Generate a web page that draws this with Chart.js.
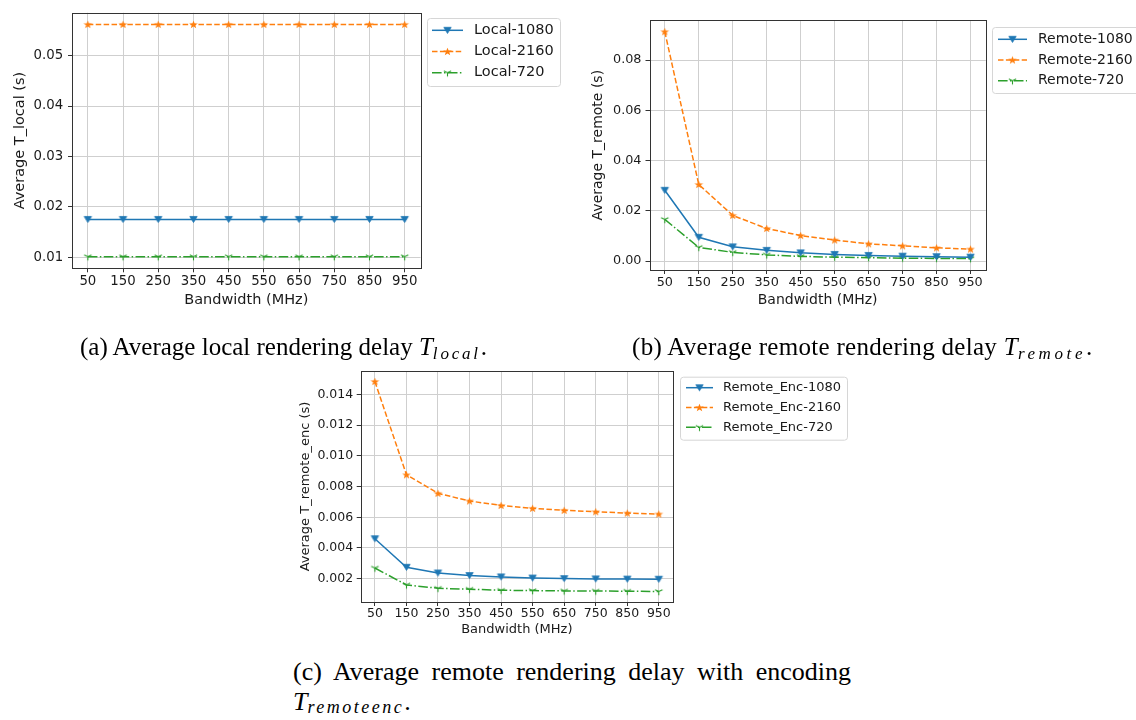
<!DOCTYPE html>
<html>
<head>
<meta charset="utf-8">
<title>Rendering delay vs bandwidth</title>
<script src="https://cdn.jsdelivr.net/npm/chart.js@4.4.1/dist/chart.umd.min.js"></script>
<style>
body { margin: 0; background: #fff; width: 1136px; height: 720px; position: relative; overflow: hidden; }
canvas { position: absolute; }
.cap { position: absolute; font-family: "Liberation Serif", serif; color: #000; white-space: nowrap; line-height: 1; }
.cap i { font-style: italic; }
.cap .sub { font-style: italic; position: relative; }
</style>
</head>
<body>
<canvas id="chartLocal" width="570" height="320" style="left:0;top:0"></canvas>
<canvas id="chartRemote" width="566" height="320" style="left:570px;top:0"></canvas>
<canvas id="chartEnc" width="580" height="280" style="left:280px;top:360px"></canvas>

<div class="cap" style="left:80px;top:334px;font-size:25px">(a) Average local rendering delay <i>T</i><span class="sub" style="font-size:17px;top:4px;letter-spacing:2.8px">local</span>.</div>
<div class="cap" style="left:632px;top:334px;font-size:25px;letter-spacing:0.3px">(b) Average remote rendering delay <i>T</i><span class="sub" style="font-size:17px;top:4px;letter-spacing:3.6px">remote</span>.</div>
<div class="cap" style="left:293px;top:659px;width:558px;font-size:26px;text-align:justify;text-align-last:justify;white-space:normal">(c) Average remote rendering delay with encoding</div>
<div class="cap" style="left:293px;top:689px;font-size:26px"><i>T</i><span class="sub" style="font-size:18px;top:3px;letter-spacing:2.5px">remoteenc</span>.</div>

<script>
// data
var bandwidth = [50, 150, 250, 350, 450, 550, 650, 750, 850, 950];

var local1080 = [0.0175, 0.0175, 0.0175, 0.0175, 0.0175, 0.0175, 0.0175, 0.0175, 0.0175, 0.0175];
var local2160 = [0.0562, 0.0562, 0.0562, 0.0562, 0.0562, 0.0562, 0.0562, 0.0562, 0.0562, 0.0562];
var local720 = [0.0101, 0.0101, 0.0101, 0.0101, 0.0101, 0.0101, 0.0101, 0.0101, 0.0101, 0.0101];

var remote1080 = [0.0282, 0.0095, 0.0057, 0.0043, 0.0033, 0.0027, 0.0023, 0.0020, 0.0018, 0.0016];
var remote2160 = [0.0913, 0.0305, 0.0182, 0.0130, 0.0102, 0.0084, 0.0069, 0.0061, 0.0053, 0.0048];
var remote720 = [0.0166, 0.0055, 0.0035, 0.0025, 0.0019, 0.0016, 0.0014, 0.0012, 0.0011, 0.0010];

var enc1080 = [0.00460, 0.00274, 0.00237, 0.00220, 0.00211, 0.00204, 0.00200, 0.00198, 0.00197, 0.00196];
var enc2160 = [0.01485, 0.00877, 0.00756, 0.00706, 0.00677, 0.00658, 0.00645, 0.00636, 0.00627, 0.00621];
var enc720 = [0.00269, 0.00159, 0.00137, 0.00131, 0.00124, 0.00122, 0.00120, 0.00119, 0.00118, 0.00116];

var xTicks = [50, 150, 250, 350, 450, 550, 650, 750, 850, 950];
var yTicksLocal = [0.01, 0.02, 0.03, 0.04, 0.05];
var yTicksRemote = [0.00, 0.02, 0.04, 0.06, 0.08];
var yTicksEnc = [0.002, 0.004, 0.006, 0.008, 0.010, 0.012, 0.014];

var BLUE = '#1f77b4', ORANGE = '#ff7f0e', GREEN = '#2ca02c';
var SPINE = '#333333', GRID = '#cfcfcf', TEXT = '#1a1a1a';
var FONT = '"DejaVu Sans", sans-serif';

// matplotlib-like markers as small canvases
function makeMarker(kind, color) {
    var c = document.createElement('canvas');
    c.width = 11; c.height = 11;
    var g = c.getContext('2d');
    g.fillStyle = color; g.strokeStyle = color;
    if (kind === 'v') {
        g.beginPath();
        g.moveTo(1.8, 2.6); g.lineTo(9.2, 2.6); g.lineTo(5.5, 8.6);
        g.closePath(); g.fill(); g.lineWidth = 0.8; g.stroke();
    } else if (kind === '*') {
        g.beginPath();
        for (var i = 0; i < 10; i++) {
            var r = i % 2 === 0 ? 4.6 : 1.9;
            var a = -Math.PI / 2 + i * Math.PI / 5;
            var px = 5.5 + r * Math.cos(a), py = 5.8 + r * Math.sin(a) * 0.9;
            if (i === 0) g.moveTo(px, py); else g.lineTo(px, py);
        }
        g.closePath(); g.fill();
    } else {
        // tri_down
        g.lineWidth = 1.1;
        g.beginPath();
        g.moveTo(5.5, 5.5); g.lineTo(5.5, 9.3);
        g.moveTo(5.5, 5.5); g.lineTo(1.8, 3.7);
        g.moveTo(5.5, 5.5); g.lineTo(9.2, 3.7);
        g.stroke();
    }
    return c;
}

function series(label, values, color, marker, dash) {
    return {
        label: label,
        data: bandwidth.map(function(b, i) { return { x: b, y: values[i] }; }),
        borderColor: color,
        backgroundColor: color,
        borderWidth: 1.5,
        borderDash: dash,
        pointStyle: makeMarker(marker, color),
        pointRadius: 4,
        pointHoverRadius: 4,
        tension: 0,
        fill: false
    };
}

// axes box (all four spines)
var frame = {
    id: 'frame',
    afterDatasetsDraw: function(chart) {
        var a = chart.chartArea, ctx = chart.ctx;
        ctx.save();
        ctx.strokeStyle = SPINE;
        ctx.lineWidth = 1;
        ctx.strokeRect(Math.round(a.left) + 0.5, Math.round(a.top) + 0.5,
            Math.round(a.right) - Math.round(a.left), Math.round(a.bottom) - Math.round(a.top));
        ctx.restore();
    }
};

// legend box in the matplotlib style
var boxLegend = {
    id: 'boxLegend',
    afterDraw: function(chart, args, o) {
        var ctx = chart.ctx;
        ctx.save();
        ctx.beginPath();
        ctx.roundRect(o.x + 0.5, o.y + 0.5, o.w, o.h, 3);
        ctx.fillStyle = 'rgba(255,255,255,0.8)';
        ctx.fill();
        ctx.strokeStyle = '#d6d6d6';
        ctx.lineWidth = 1;
        ctx.stroke();
        chart.data.datasets.forEach(function(ds, i) {
            var y = o.y0 + i * o.step;
            ctx.strokeStyle = ds.borderColor;
            ctx.lineWidth = ds.borderWidth;
            ctx.setLineDash(ds.borderDash || []);
            ctx.beginPath();
            ctx.moveTo(o.x0, y);
            ctx.lineTo(o.x1, y);
            ctx.stroke();
            ctx.setLineDash([]);
            var m = ds.pointStyle;
            ctx.drawImage(m, (o.x0 + o.x1) / 2 - m.width / 2, y - m.height / 2);
            ctx.fillStyle = TEXT;
            ctx.font = o.size + 'px ' + FONT;
            ctx.textBaseline = 'middle';
            ctx.textAlign = 'left';
            ctx.fillText(ds.label, o.tx, y);
        });
        ctx.restore();
    }
};

function yRange(list) {
    var all = [].concat.apply([], list);
    var lo = Math.min.apply(null, all), hi = Math.max.apply(null, all);
    var m = (hi - lo) * 0.05;
    return [lo - m, hi + m];
}

function makeChart(id, datasets, yTicks, yTitle, c) {
    var yr = yRange(datasets.map(function(d) { return d.data.map(function(p) { return p.y; }); }));
    return new Chart(document.getElementById(id), {
        type: 'line',
        data: { datasets: datasets },
        options: {
            responsive: false,
            animation: false,
            events: [],
            layout: { padding: { top: c.top, right: c.right, left: 0, bottom: 0 } },
            plugins: {
                legend: { display: false },
                tooltip: { enabled: false },
                boxLegend: c.legend
            },
            scales: {
                x: {
                    type: 'linear',
                    min: 5,
                    max: 995,
                    afterBuildTicks: function(s) { s.ticks = xTicks.map(function(v) { return { value: v }; }); },
                    afterFit: function(s) { s.height = c.xh; },
                    grid: { color: GRID, lineWidth: 1, tickColor: SPINE, tickLength: 4 },
                    border: { display: false },
                    ticks: {
                        autoSkip: false, maxRotation: 0, color: TEXT, padding: c.xpad,
                        font: { family: FONT, size: c.tick },
                        callback: function(v) { return String(v); }
                    },
                    title: {
                        display: true, text: 'Bandwidth (MHz)', color: TEXT,
                        font: { family: FONT, size: c.label },
                        padding: { top: 0, bottom: c.xtpad }
                    }
                },
                y: {
                    min: yr[0],
                    max: yr[1],
                    afterBuildTicks: function(s) { s.ticks = yTicks.map(function(v) { return { value: v }; }); },
                    afterFit: function(s) { s.width = c.yw; },
                    grid: { color: GRID, lineWidth: 1, tickColor: SPINE, tickLength: 4 },
                    border: { display: false },
                    ticks: {
                        color: TEXT, padding: c.ypad,
                        font: { family: FONT, size: c.tick },
                        callback: function(v) { return v.toFixed(c.dec); }
                    },
                    title: {
                        display: true, text: yTitle, color: TEXT,
                        font: { family: FONT, size: c.label },
                        padding: { top: c.ytpad, bottom: 0 }
                    }
                }
            }
        },
        plugins: [frame, boxLegend]
    });
}

makeChart('chartLocal', [
    series('Local-1080', local1080, BLUE, 'v', []),
    series('Local-2160', local2160, ORANGE, '*', [5.5, 2.4]),
    series('Local-720', local720, GREEN, '1', [9.6, 2.4, 1.5, 2.4])
], yTicksLocal, 'Average T_local (s)', {
    top: 10.3, right: 149.5, yw: 72, xh: 51.7, tick: 13.3, label: 14.5,
    xpad: 1.4, ypad: 4.8, xtpad: 11.3, ytpad: 11.3, dec: 2,
    legend: { x: 427, y: 18, w: 133, h: 68, y0: 30.3, step: 21.2, x0: 432, x1: 463, tx: 474, size: 14.5 }
});

makeChart('chartRemote', [
    series('Remote-1080', remote1080, BLUE, 'v', []),
    series('Remote-2160', remote2160, ORANGE, '*', [5.5, 2.4]),
    series('Remote-720', remote720, GREEN, '1', [9.6, 2.4, 1.5, 2.4])
], yTicksRemote, 'Average T_remote (s)', {
    top: 20.3, right: 150.2, yw: 79.5, xh: 50, tick: 12.8, label: 14,
    xpad: 1, ypad: 4, xtpad: 11.6, ytpad: 19.9, dec: 2,
    legend: { x: 422, y: 27, w: 150, h: 66, y0: 39.3, step: 20.7, x0: 428, x1: 457, tx: 468, size: 14 }
});

makeChart('chartEnc', [
    series('Remote_Enc-1080', enc1080, BLUE, 'v', []),
    series('Remote_Enc-2160', enc2160, ORANGE, '*', [5.5, 2.4]),
    series('Remote_Enc-720', enc720, GREEN, '1', [9.6, 2.4, 1.5, 2.4])
], yTicksEnc, 'Average T_remote_enc (s)', {
    top: 9.7, right: 187, yw: 80.7, xh: 38, tick: 12.5, label: 13,
    xpad: 0, ypad: 3.5, xtpad: 2.9, ytpad: 17.5, dec: 3,
    legend: { x: 400, y: 16.7, w: 167, h: 63, y0: 27.7, step: 19.8, x0: 406, x1: 433, tx: 443, size: 13 }
});
</script>
</body>
</html>
